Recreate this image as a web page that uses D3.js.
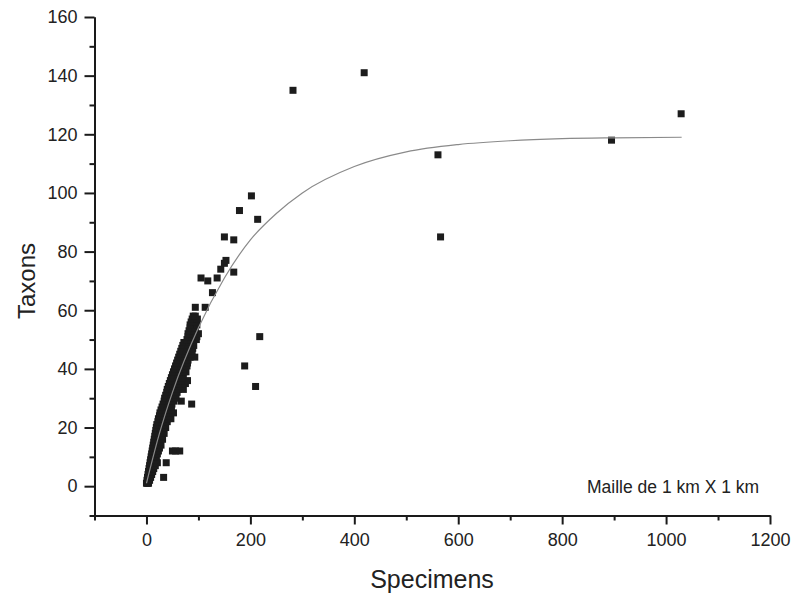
<!DOCTYPE html>
<html>
<head>
<meta charset="utf-8">
<script src="https://cdn.jsdelivr.net/npm/d3@7"></script>
<style>
  html, body { margin: 0; padding: 0; background: #fff; }
  svg { display: block; }
  text { font-family: "Liberation Sans", Arial, sans-serif; fill: #222; }
</style>
</head>
<body>
<svg id="chart" width="795" height="596"></svg>
<script>
// ---- Data ----
const xTicksMajor = [0, 200, 400, 600, 800, 1000, 1200];
const xTicksMinor = [-100, 100, 300, 500, 700, 900, 1100];
const yTicksMajor = [0, 20, 40, 60, 80, 100, 120, 140, 160];
const yTicksMinor = [-10, 10, 30, 50, 70, 90, 110, 130, 150];

const xTitle = "Specimens";
const yTitle = "Taxons";
const note = "Maille de 1 km X 1 km";

// observed cells: specimens (x) and taxa (y)
const specimens = [
  0,2,4, 1,3,6, 2,5,8,33, 3,7,10, 4,8,12, 5,10,14, 6,11,17,
  7,12,17,21,38, 8,14,18, 9,15,19, 10,16,21, 11,17,23,50,56,64,
  12,19,25, 13,20,28, 14,21,27, 15,23,31, 16,24,30, 17,25,34,
  18,26,33, 19,28,37, 20,29,36, 22,30,40, 23,32,41,47, 25,34,42,
  26,35,44,52, 28,37,47, 30,39,48, 32,41,49,87, 34,43,53,67,
  35,45,55, 37,47,57, 39,49,59, 40,50,61,71, 42,52,62, 44,54,63,75,
  46,56,66,79, 48,58,69, 50,60,71, 52,62,72,76, 54,64,74, 56,66,78,
  58,68,79, 60,70,80, 62,72,84,93, 64,74,85, 66,76,88, 68,78,89,
  70,80,91, 72,82,90, 78,86,96, 80,88,97, 80,90,100, 82,92, 84,94,
  84,97, 86,95, 88,98, 90,94,
  94,113, 105,118,136, 127, 143,168, 150,153, 150,168, 179, 202, 214,
  218, 189, 210,
  282, 419, 561, 566, 895, 1029
];
const taxons = [
  1,1,1, 2,2,2, 3,3,3,3, 4,4,4, 5,5,5, 6,6,6, 7,7,7,
  8,8,8,8,8, 9,9,9, 10,10,10, 11,11,11, 12,12,12,12,12,12,
  13,13,13, 14,14,14, 15,15,15, 16,16,16, 17,17,17, 18,18,18,
  19,19,19, 20,20,20, 21,21,21, 22,22,22, 23,23,23,23, 24,24,24,
  25,25,25,25, 26,26,26, 27,27,27, 28,28,28,28, 29,29,29,29,
  30,30,30, 31,31,31, 32,32,32, 33,33,33,33, 34,34,34, 35,35,35,35,
  36,36,36,36, 37,37,37, 38,38,38, 39,39,39,39, 40,40,40, 41,41,41,
  42,42,42, 43,43,43, 44,44,44,44, 45,45,45, 46,46,46, 47,47,47,
  48,48,48, 49,49,49, 50,50,50, 51,51,51, 52,52,52, 53,53, 54,54,
  55,55, 56,56, 57,57, 58,58,
  61,61, 71,70,71, 66, 74,73, 85,77, 76,84, 94, 99, 91,
  51, 41, 34,
  135, 141, 113, 85, 118, 127
];

// fitted curve, points
const fitX = [0, 25, 50, 100, 150, 200, 250, 300, 400, 500, 600, 700, 800, 900, 1030];
const fitY = [1, 18, 32, 54, 71, 84, 93, 100, 109, 114, 116.5, 117.8, 118.5, 118.8, 119];

// ---- Drawing ----
const svg = d3.select("#chart");
const x = d3.scaleLinear().domain([-100, 1200]).range([94.5, 770]);
const y = d3.scaleLinear().domain([-10, 160]).range([515.5, 17]);

const axisColor = "#1a1a1a";

function styleAxis(g) {
  g.selectAll("path.domain").attr("stroke", axisColor).attr("stroke-width", 2);
  g.selectAll(".tick line").attr("stroke", axisColor).attr("stroke-width", 2);
  g.selectAll(".tick text")
    .attr("font-family", "'Liberation Sans', Arial, sans-serif")
    .attr("font-size", 18)
    .attr("fill", "#222");
}

// minor ticks
svg.append("g")
  .attr("transform", `translate(0,${y(-10)})`)
  .call(d3.axisBottom(x).tickValues(xTicksMinor).tickSize(5).tickSizeOuter(0).tickFormat(""))
  .call(styleAxis);
svg.append("g")
  .attr("transform", `translate(${x(-100)},0)`)
  .call(d3.axisLeft(y).tickValues(yTicksMinor).tickSize(5).tickSizeOuter(0).tickFormat(""))
  .call(styleAxis);

// major ticks
svg.append("g")
  .attr("transform", `translate(0,${y(-10)})`)
  .call(d3.axisBottom(x).tickValues(xTicksMajor).tickSize(9).tickSizeOuter(0).tickPadding(9).tickFormat(d3.format("d")))
  .call(styleAxis);
svg.append("g")
  .attr("transform", `translate(${x(-100)},0)`)
  .call(d3.axisLeft(y).tickValues(yTicksMajor).tickSize(10).tickSizeOuter(0).tickPadding(7).tickFormat(d3.format("d")))
  .call(styleAxis);

// scatter squares
const s = 7;
svg.append("g")
  .selectAll("rect")
  .data(specimens.map((v, i) => [v, taxons[i]]))
  .join("rect")
  .attr("x", d => x(d[0]) - s / 2)
  .attr("y", d => y(d[1]) - s / 2)
  .attr("width", s)
  .attr("height", s)
  .attr("fill", "#1c1c1c");

// fitted curve (drawn over the markers)
const pts = fitX.map((v, i) => [v, fitY[i]]);
svg.append("path")
  .datum(pts)
  .attr("fill", "none")
  .attr("stroke", "#8a8a8a")
  .attr("stroke-width", 1.2)
  .attr("d", d3.line().x(d => x(d[0])).y(d => y(d[1])).curve(d3.curveMonotoneX));

// axis titles
svg.append("text")
  .attr("x", 432).attr("y", 588)
  .attr("text-anchor", "middle")
  .attr("font-size", 25)
  .text(xTitle);
svg.append("text")
  .attr("transform", "translate(35,281) rotate(-90)")
  .attr("text-anchor", "middle")
  .attr("font-size", 24)
  .text(yTitle);

// note
svg.append("text")
  .attr("x", 587).attr("y", 493)
  .attr("font-size", 17.5)
  .text(note);
</script>
</body>
</html>
